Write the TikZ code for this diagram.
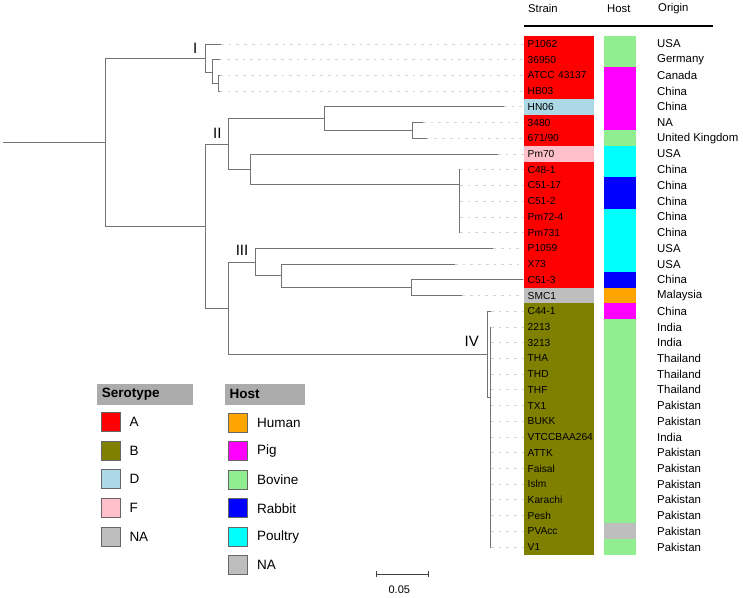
\documentclass[tikz,border=0pt]{standalone}
\usepackage{fontspec}
\setmainfont{Liberation Sans}
\usetikzlibrary{positioning,arrows.meta}

\definecolor{serA}{RGB}{255,0,0}
\definecolor{serB}{RGB}{128,128,0}
\definecolor{serD}{RGB}{173,216,230}
\definecolor{serF}{RGB}{255,192,203}
\definecolor{serNA}{RGB}{190,190,190}
\definecolor{hostHuman}{RGB}{255,165,0}
\definecolor{hostPig}{RGB}{255,0,255}
\definecolor{hostBovine}{RGB}{144,238,144}
\definecolor{hostRabbit}{RGB}{0,0,255}
\definecolor{hostPoultry}{RGB}{0,255,255}
\definecolor{hostNA}{RGB}{190,190,190}

\begin{document}
\begin{tikzpicture}[x=1pt,y=-1pt]
\tikzstyle{branch}=[draw=black!55, line width=0.9pt]
\tikzstyle{leader}=[draw=black!17, line width=0.8pt, dash pattern=on 2.7pt off 5pt]
\tikzstyle{strain}=[rectangle, anchor=west, minimum height=16pt, inner xsep=3.5pt, inner ysep=0pt, text width=63pt, align=left, font=\fontsize{10.2}{12}\selectfont]
\tikzstyle{hostcell}=[rectangle, anchor=west, minimum width=32pt, minimum height=16pt, inner sep=0pt]
\tikzstyle{origin}=[anchor=west, inner sep=0pt, font=\fontsize{11.4}{13}\selectfont]
\tikzstyle{head}=[anchor=west, inner sep=0pt, font=\fontsize{11.3}{13}\selectfont]
\tikzstyle{clade}=[inner sep=0pt, font=\fontsize{15}{17}\selectfont]
\tikzstyle{leghead}=[rectangle, anchor=north west, fill=black!33, minimum height=21.7pt, inner xsep=5pt, align=left, font=\fontsize{13.5}{15}\selectfont\bfseries]
\tikzstyle{legbox}=[rectangle, minimum size=19pt, inner sep=0pt, draw=black!60, line width=0.6pt]
\tikzstyle{legtext}=[inner sep=0pt, font=\fontsize{13.5}{15}\selectfont]
  \fill[white] (0,0) rectangle (743,597);
  % strain, host and origin columns
  \foreach \name/\sero/\host/\orig [count=\i from 0] in {
      P1062/A/Bovine/USA, 36950/A/Bovine/Germany, ATCC 43137/A/Pig/Canada,
      HB03/A/Pig/China, HN06/D/Pig/China, 3480/A/Pig/NA,
      {671/90}/A/Bovine/United Kingdom, Pm70/F/Poultry/USA, C48-1/A/Poultry/China,
      C51-17/A/Rabbit/China, C51-2/A/Rabbit/China, Pm72-4/A/Poultry/China,
      Pm731/A/Poultry/China, P1059/A/Poultry/USA, X73/A/Poultry/USA,
      C51-3/A/Rabbit/China, SMC1/NA/Human/Malaysia, C44-1/B/Pig/China,
      2213/B/Bovine/India, 3213/B/Bovine/India, THA/B/Bovine/Thailand,
      THD/B/Bovine/Thailand, THF/B/Bovine/Thailand, TX1/B/Bovine/Pakistan,
      BUKK/B/Bovine/Pakistan, VTCCBAA264/B/Bovine/India, ATTK/B/Bovine/Pakistan,
      Faisal/B/Bovine/Pakistan, Islm/B/Bovine/Pakistan, Karachi/B/Bovine/Pakistan,
      Pesh/B/Bovine/Pakistan, PVAcc/B/NA/Pakistan, V1/B/Bovine/Pakistan} {
    \node[strain, fill=ser\sero] (s\i) at (524,{44+15.72*\i}) {\name};
    \node[hostcell, fill=host\host] (h\i) at (604,{44+15.72*\i}) {};
    \node[origin] (o\i) at (657,{44+15.72*\i}) {\orig};
  }
  \node[head] (hStrain) at (528,8.5) {Strain};
  \node[head] (hHost) at (607,8.5) {Host};
  \node[head] (hOrigin) at (658,8.5) {Origin};
  \coordinate (hlL) at (524,26);
  \coordinate (hlR) at (713,26);
  \draw[line width=1.8pt] (hlL) -- (hlR);

  % leaf tips
  \foreach \tx [count=\i from 0] in {221,219.5,220,220,504,423,426.7,498,460,460,460,460,460,
      493.3,455,523,462.3,491,491,491,491,491,491,491,491,491,491,491,491,491,491,491,491}
    \coordinate (l\i) at (\tx,{44+15.72*\i});
  \foreach \i in {0,...,32}
    \draw[leader] (l\i) -- (s\i.west);

  % inner nodes
  \coordinate (rt) at (3.3,142);
  \coordinate (r) at (105,142);
  \coordinate (cI) at (205.5,58);
  \coordinate (a1) at (212.3,72);
  \coordinate (a2) at (218.5,83.3);
  \coordinate (n2) at (205.5,226);
  \coordinate (cII) at (228.7,144);
  \coordinate (b1) at (324,118.7);
  \coordinate (b2) at (412.3,130.5);
  \coordinate (b3) at (250.3,169.3);
  \coordinate (b4) at (459.3,184.7);
  \coordinate (n3) at (228.7,308.3);
  \coordinate (cIII) at (255,262.1);
  \coordinate (c1) at (281.7,275.9);
  \coordinate (c2) at (411.7,287.6);
  \coordinate (cIV) at (487,354.6);
  \coordinate (d1) at (490,397.4);

  \draw[branch] (rt) -- (r);
  \draw[branch] (r) |- (cI) (r) |- (n2);
  \draw[branch] (cI) |- (l0) (cI) |- (a1);
  \draw[branch] (a1) |- (l1) (a1) |- (a2);
  \draw[branch] (a2) |- (l2) (a2) |- (l3);
  \draw[branch] (n2) |- (cII) (n2) |- (n3);
  \draw[branch] (cII) |- (b1) (cII) |- (b3);
  \draw[branch] (b1) |- (l4) (b1) |- (b2);
  \draw[branch] (b2) |- (l5) (b2) |- (l6);
  \draw[branch] (b3) |- (l7) (b3) |- (b4);
  \foreach \i in {8,...,12} \draw[branch] (b4) |- (l\i);
  \draw[branch] (n3) |- (cIII) (n3) |- (cIV);
  \draw[branch] (cIII) |- (l13) (cIII) |- (c1);
  \draw[branch] (c1) |- (l14) (c1) |- (c2);
  \draw[branch] (c2) |- (l15) (c2) |- (l16);
  \draw[branch] (cIV) |- (l17) (cIV) |- (d1);
  \foreach \i in {18,...,32} \draw[branch] (d1) |- (l\i);

  \node[clade, above left=4.5pt and 8pt of cI] (labI) {I};
  \node[clade, above left=5.5pt and 7pt of cII] (labII) {II};
  \node[clade, above left=6pt and 6.5pt of cIII] (labIII) {III};
  \node[clade, above left=7.5pt and 8pt of cIV] (labIV) {IV};

  % legend
  \node[leghead, text width=85.6pt] (serohead) at (96.7,383.3) {Serotype};
  \node[legbox, fill=serA] (kA) at (110.5,422) {};
  \node[legbox, fill=serB, below=9pt of kA] (kB) {};
  \node[legbox, fill=serD, below=9pt of kB] (kD) {};
  \node[legbox, fill=serF, below=9pt of kD] (kF) {};
  \node[legbox, fill=serNA, below=9pt of kF] (kNA) {};
  \node[legtext, right=9pt of kA] (tA) {A};
  \node[legtext, right=9pt of kB] (tB) {B};
  \node[legtext, right=9pt of kD] (tD) {D};
  \node[legtext, right=9pt of kF] (tF) {F};
  \node[legtext, right=9pt of kNA] (tNA) {NA};

  \node[leghead, text width=70.7pt] (hosthead) at (224.3,383.3) {Host};
  \node[legbox, fill=hostHuman] (kHuman) at (238.2,422.7) {};
  \node[legbox, fill=hostPig, below=8.9pt of kHuman] (kPig) {};
  \node[legbox, fill=hostBovine, below=8.9pt of kPig] (kBovine) {};
  \node[legbox, fill=hostRabbit, below=8.9pt of kBovine] (kRabbit) {};
  \node[legbox, fill=hostPoultry, below=8.9pt of kRabbit] (kPoultry) {};
  \node[legbox, fill=hostNA, below=8.9pt of kPoultry] (kHNA) {};
  \node[legtext, right=9pt of kHuman] (tHuman) {Human};
  \node[legtext, right=9pt of kPig] (tPig) {Pig};
  \node[legtext, right=9pt of kBovine] (tBovine) {Bovine};
  \node[legtext, right=9pt of kRabbit] (tRabbit) {Rabbit};
  \node[legtext, right=9pt of kPoultry] (tPoultry) {Poultry};
  \node[legtext, right=9pt of kHNA] (tHNA) {NA};

  % scale bar
  \coordinate (sbL) at (376,574);
  \coordinate (sbR) at (429,574);
  \draw[black!75, line width=1pt, {Bar[width=6pt]}-{Bar[width=6pt]}] (sbL) -- (sbR);
  \node[inner sep=0pt, font=\fontsize{11}{13}\selectfont] (sbtext) at (399.3,590) {0.05};
\end{tikzpicture}
\end{document}
